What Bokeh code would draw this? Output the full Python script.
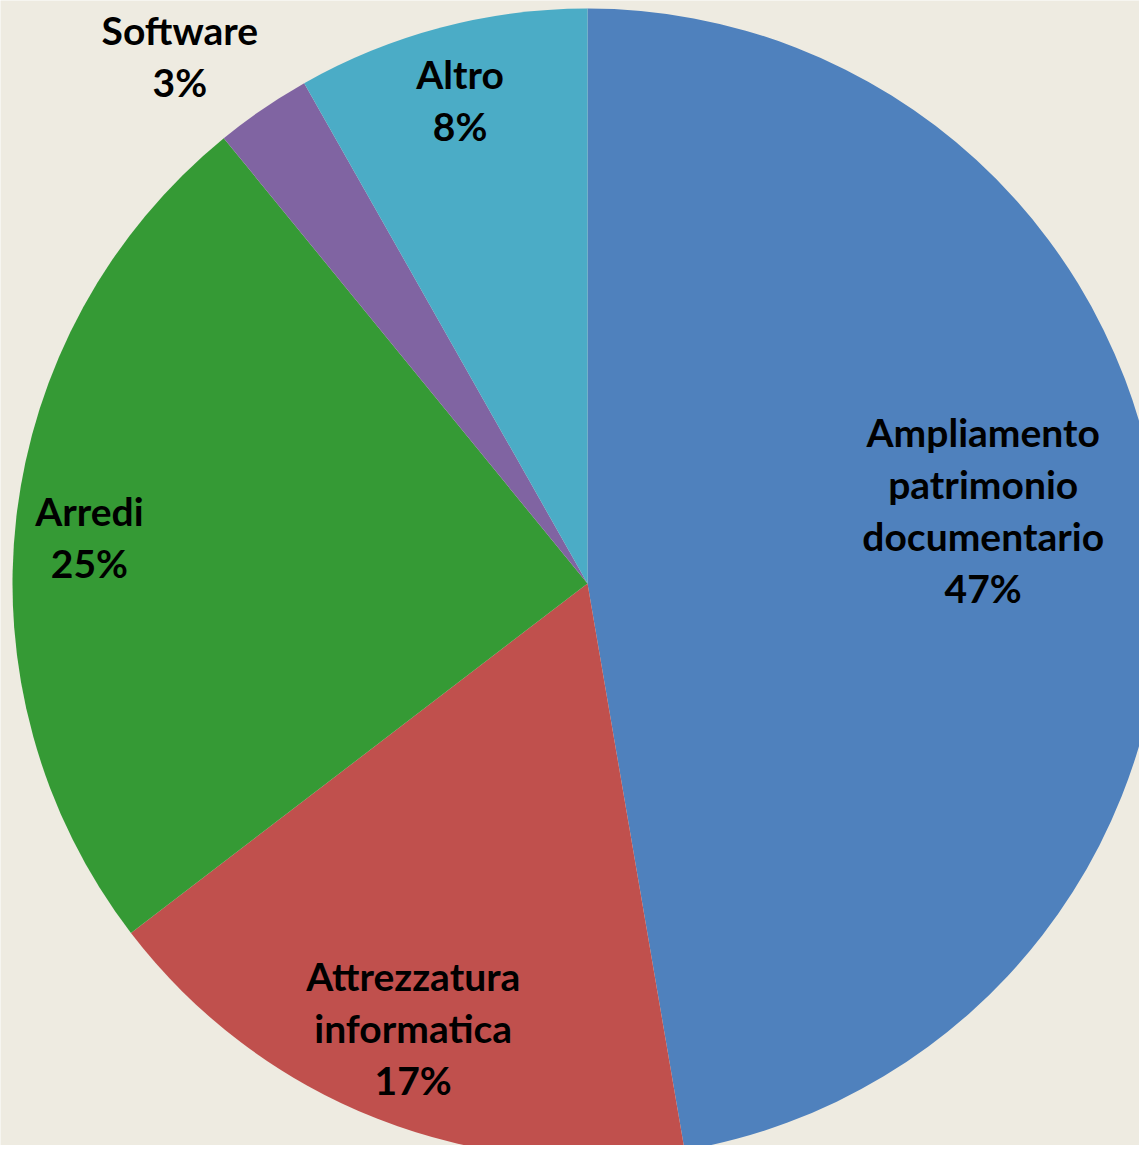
import math
from bokeh.plotting import figure
from bokeh.models import Range1d, ColumnDataSource
from bokeh.core.properties import value
from bokeh.embed import file_html
from bokeh.resources import INLINE

categories = ["Ampliamento patrimonio documentario", "Attrezzatura informatica",
              "Arredi", "Software", "Altro"]
label_lines = [["Ampliamento", "patrimonio", "documentario"],
               ["Attrezzatura", "informatica"],
               ["Arredi"],
               ["Software"],
               ["Altro"]]
shares = [47.3, 17.3, 24.5, 2.7, 8.2]
pct_labels = ["47%", "17%", "25%", "3%", "8%"]
colors = ["#4F81BD", "#C0504D", "#359A35", "#8064A2", "#4BACC6"]

# label placement (style): radial fraction and angular tweak (deg)
label_rfrac = [0.70, 0.83, 0.87, 1.16, 0.87]
label_dang = [-5.7, 0.0, -1.3, -3.3, 0.0]

W, H = 1139, 1145
CX, CY, R = 587, 562, 575
BG = "#EEEBE1"

p = figure(width=W, height=H, output_backend="svg", toolbar_location=None,
           x_range=Range1d(0, W), y_range=Range1d(0, H), min_border=0)
p.axis.visible = False
p.grid.visible = False
p.outline_line_color = None
p.background_fill_color = BG
p.border_fill_color = BG

total = sum(shares)
starts, ends, mids = [], [], []
acc = 0.0
for s in shares:
    a0 = math.pi / 2 - 2 * math.pi * acc / total
    acc += s
    a1 = math.pi / 2 - 2 * math.pi * acc / total
    starts.append(a0)
    ends.append(a1)
    mids.append((a0 + a1) / 2)

src = ColumnDataSource(dict(start=starts, end=ends, color=colors, name=categories))
p.wedge(x=CX, y=CY, radius=R, start_angle="start", end_angle="end",
        direction="clock", fill_color="color", line_color=None, source=src)

LS = 52
tx, ty, tt = [], [], []
for i in range(len(shares)):
    ang = mids[i] - math.radians(label_dang[i])
    r = label_rfrac[i] * R
    lx = CX + r * math.cos(ang)
    ly = CY + r * math.sin(ang)
    lines = label_lines[i] + [pct_labels[i]]
    n = len(lines)
    for k, t in enumerate(lines):
        tx.append(lx)
        ty.append(ly + ((n - 1) / 2 - k) * LS)
        tt.append(t)

p.text(x=tx, y=ty, text=tt, text_align="center", text_baseline="middle",
       text_font=value("Lato"), text_font_style="bold", text_font_size="39px",
       text_color="#000000")

open("out.html", "w").write(file_html(p, INLINE))
